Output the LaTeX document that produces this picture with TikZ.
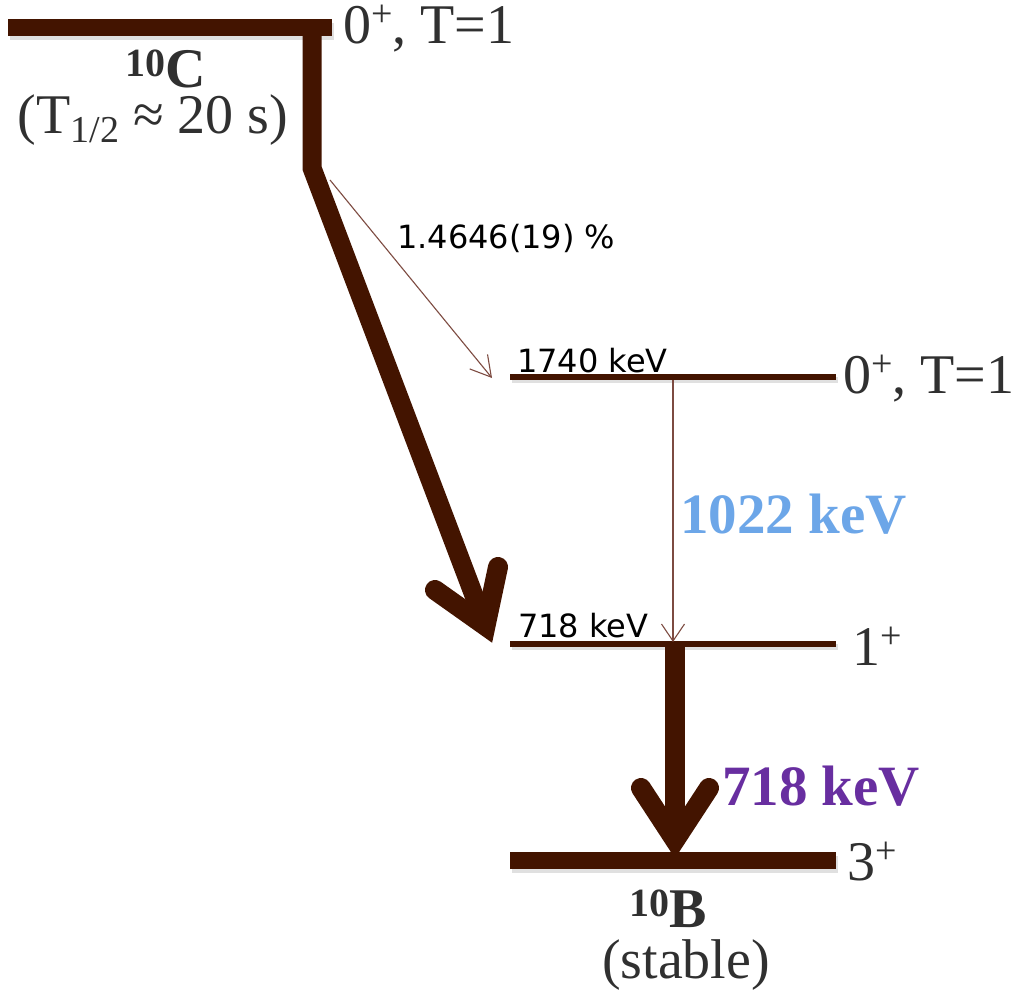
\documentclass[tikz,border=0pt]{standalone}
\usepackage{fontspec}
\setmainfont{Liberation Serif}
\newfontfamily\sansf{DejaVu Sans}
\usetikzlibrary{arrows.meta}
\definecolor{barc}{RGB}{67,20,0}
\definecolor{thinc}{RGB}{125,75,65}
\definecolor{txtc}{RGB}{48,48,48}
\definecolor{bluec}{RGB}{108,166,232}
\definecolor{purc}{RGB}{104,46,160}
\newcommand{\supp}[1]{\raisebox{17pt}{\fontsize{38}{38}\selectfont #1}}
\newcommand{\isosup}[1]{\raisebox{11pt}{\fontsize{40}{40}\selectfont #1}}
\newcommand{\subb}[1]{\raisebox{-9pt}{\fontsize{38}{38}\selectfont #1}}
\begin{document}
\begin{tikzpicture}[x=1pt,y=-1pt,
  bar/.style={draw=barc,line width=#1,line cap=butt},
  shadow/.style={draw=black,opacity=0.12,line width=#1,line cap=butt},
  shaft/.style={draw=barc,line width=19,line cap=butt,line join=miter},
  chev/.style={draw=barc,line width=20,line cap=round,line join=miter},
  thinarrow/.style={draw=thinc,line width=1.1,-{Straight Barb[length=#1,width=23]}},
  serif/.style={anchor=base west,inner sep=0,text=txtc,font=\fontsize{56}{60}\selectfont},
  serifc/.style={anchor=base,inner sep=0,text=txtc,font=\fontsize{56}{60}\selectfont},
  sanslab/.style={anchor=base west,inner sep=0,text=black,font=\sansf\fontsize{32}{36}\selectfont},
  energy/.style={anchor=base west,inner sep=0,text=#1,font=\bfseries\fontsize{57}{60}\selectfont}]
\useasboundingbox (0,0) rectangle (1021,991);
% level coordinates
\coordinate (cL) at (8,27);   \coordinate (cR) at (332,27);
\coordinate (aL) at (510,377); \coordinate (aR) at (836,377);
\coordinate (bL) at (510,644); \coordinate (bR) at (836,644);
\coordinate (gL) at (510,860); \coordinate (gR) at (836,860);
% soft shadows
\draw[shadow=17] ([shift={(2,4)}]cL) -- ([shift={(2,4)}]cR);
\draw[shadow=6] ([shift={(2,3)}]aL) -- ([shift={(2,3)}]aR);
\draw[shadow=6] ([shift={(2,3)}]bL) -- ([shift={(2,3)}]bR);
\draw[shadow=17] ([shift={(2,4)}]gL) -- ([shift={(2,4)}]gR);
% levels
\draw[bar=17] (cL) -- (cR);
\draw[bar=6] (aL) -- (aR);
\draw[bar=6] (bL) -- (bR);
\draw[bar=17] (gL) -- (gR);
% main beta branch
\coordinate (v0) at (312,27);
\coordinate (v1) at (312,168);
\coordinate (t1) at (485.5,625.8);
\coordinate (w1) at (435,590);
\coordinate (w2) at (498,567);
\draw[shaft] (v0) -- (v1) -- (t1);
\draw[chev] (w1) -- (t1) -- (w2);
% weak beta branch
\coordinate (s1) at (330,180);
\coordinate (e1) at (492,378);
\draw[thinarrow=20] (s1) -- (e1);
% 1022 keV gamma
\coordinate (g1a) at (673,380);
\coordinate (g1b) at (673,642);
\draw[thinarrow=17] (g1a) -- (g1b);
% 718 keV gamma
\coordinate (g2a) at (675,644);
\coordinate (t2) at (675,840);
\coordinate (w3) at (641,788);
\coordinate (w4) at (709,788);
\draw[shaft,line width=20] (g2a) -- (t2);
\draw[chev] (w3) -- (t2) -- (w4);
% labels
\node[serif] (cspin) at (343,43) {0\supp{+}, T=1};
\node[serif] (aspin) at (843,393) {0\supp{+}, T=1};
\node[serif] (bspin) at (852,665) {1\supp{+}};
\node[serif] (gspin) at (847,880) {3\supp{+}};
\node[serifc,font=\bfseries\fontsize{56}{60}\selectfont] (cname) at (166,87) {\isosup{10}C};
\node[serifc] (chalf) at (153,133) {(T\subb{1/2} ≈ 20 s)};
\node[serifc,font=\bfseries\fontsize{56}{60}\selectfont] (bname) at (668,927) {\isosup{10}B};
\node[serifc] (bstab) at (686,978) {(stable)};
\node[sanslab] (branch) at (397,248) {1.4646(19) \%};
\node[sanslab] (aen) at (517,372) {1740 keV};
\node[sanslab] (ben) at (518,637) {718 keV};
\node[energy=bluec] (gam1) at (680,533) {1022 keV};
\node[energy=purc] (gam2) at (722,805) {718 keV};
\end{tikzpicture}
\end{document}
